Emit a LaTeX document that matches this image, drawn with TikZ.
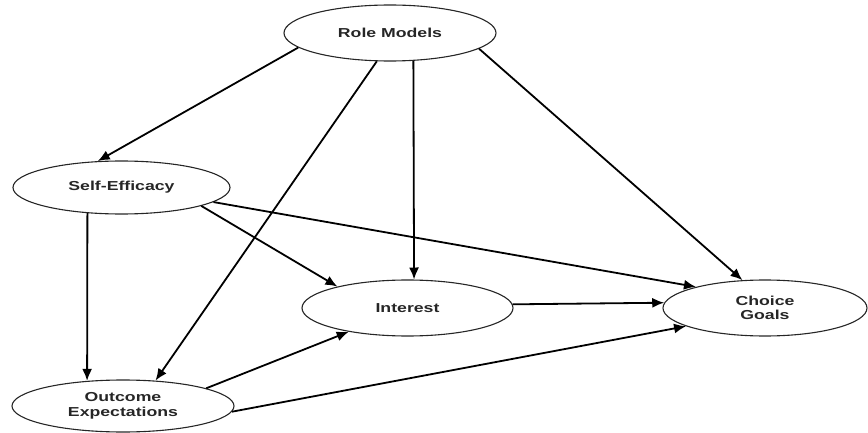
\documentclass[tikz,border=0pt]{standalone}
\usepackage{fontspec}
\newfontfamily\lab{Liberation Sans}[FakeStretch=1.36]
\usetikzlibrary{shapes.geometric,arrows.meta}
\begin{document}
\begin{tikzpicture}[x=1pt,y=1pt,
  oval/.style={ellipse,draw=black!85,line width=1.1pt,inner sep=0pt,align=center,
    font=\lab\bfseries\fontsize{13}{14.5}\selectfont,text=black!85},
  arr/.style={line width=1.8pt,draw=black,-{Latex[length=12pt,width=10pt]}}]
\useasboundingbox (0,0) rectangle (868,432);
\node[oval,minimum width=212pt,minimum height=56pt] (rm) at (390,399) {Role Models};
\node[oval,minimum width=217pt,minimum height=53pt] (se) at (121.5,244.5) {Self-Efficacy};
\node[oval,minimum width=222pt,minimum height=52pt] (oe) at (123,26) {Outcome\\Expectations};
\node[oval,minimum width=211pt,minimum height=56pt] (int) at (407.5,124) {Interest};
\node[oval,minimum width=204pt,minimum height=56pt] (cg) at (765,124) {Choice\\Goals};
\draw[arr] (rm.189) -- (se.132);
\draw[arr] (rm.245) -- (oe.38);
\draw[arr] (rm.310) -- (int.77);
\draw[arr] (rm.350) -- (cg.129);
\draw[arr] (se.217) -- (oe.145);
\draw[arr] (se.347) -- (int.163);
\draw[arr] (se.351) -- (cg.163);
\draw[arr] (int.2.8) -- (cg.177);
\draw[arr] (oe.12) -- (int.202);
\draw[arr] (oe.357) -- (cg.193);
\end{tikzpicture}
\end{document}
